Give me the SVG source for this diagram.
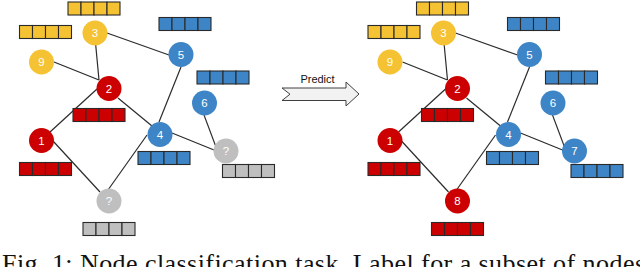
<svg xmlns="http://www.w3.org/2000/svg" xmlns:xlink="http://www.w3.org/1999/xlink" width="640" height="267" viewBox="0 0 640 267">
<style>
.edge{stroke:#2b2b2b;stroke-width:1.2;fill:none}
.y{fill:#F4C232}.r{fill:#CC0000}.b{fill:#3D85C6}.g{fill:#BFBFBF}
.lbl{font-family:"Liberation Sans",Arial,sans-serif;font-size:11.5px;fill:#ffffff;text-anchor:middle}
.cell{stroke:#2a2a2a;stroke-width:1.1}
.pred{font-family:"Liberation Sans",Arial,sans-serif;font-size:11px;fill:#111;text-anchor:middle}
.cap{font-family:"Liberation Serif","Times New Roman",serif;font-size:26px;fill:#111}
</style>
<defs>
<g id="bar" class="cell">
<rect x="0" y="0" width="13" height="13"/>
<rect x="13" y="0" width="13" height="13"/>
<rect x="26" y="0" width="13" height="13"/>
<rect x="39" y="0" width="13" height="13"/>
</g>
</defs>
<g id="connectors">
<g id="edges-left">
<line class="edge" x1="107" y1="33" x2="169" y2="55"/>
<line class="edge" x1="95.7" y1="45" x2="99" y2="80"/>
<line class="edge" x1="54" y1="62" x2="99" y2="80"/>
<line class="edge" x1="97" y1="89" x2="50" y2="132"/>
<line class="edge" x1="118" y1="98" x2="152" y2="126"/>
<line class="edge" x1="181" y1="67" x2="159" y2="122"/>
<line class="edge" x1="204" y1="115" x2="216" y2="147"/>
<line class="edge" x1="172" y1="133" x2="214" y2="150"/>
<line class="edge" x1="53" y1="141" x2="100" y2="192"/>
<line class="edge" x1="147" y1="135" x2="108" y2="190"/>
</g>
<g id="edges-right" transform="translate(348.5,0)">
<line class="edge" x1="107" y1="33" x2="169" y2="55"/>
<line class="edge" x1="95.7" y1="45" x2="99" y2="80"/>
<line class="edge" x1="54" y1="62" x2="99" y2="80"/>
<line class="edge" x1="97" y1="89" x2="50" y2="132"/>
<line class="edge" x1="118" y1="98" x2="152" y2="126"/>
<line class="edge" x1="181" y1="67" x2="159" y2="122"/>
<line class="edge" x1="204" y1="115" x2="216" y2="147"/>
<line class="edge" x1="172" y1="133" x2="214" y2="150"/>
<line class="edge" x1="53" y1="141" x2="100" y2="192"/>
<line class="edge" x1="147" y1="135" x2="108" y2="190"/>
</g>
</g>
<g id="left-graph">
<g id="L3"><use xlink:href="#bar" class="y" x="68" y="2"/><circle class="y" cx="95" cy="33" r="12.5"/><text class="lbl" x="95" y="37">3</text></g>
<g id="L9"><use xlink:href="#bar" class="y" x="19.5" y="25.5"/><circle class="y" cx="41.5" cy="62" r="12.5"/><text class="lbl" x="41.5" y="66">9</text></g>
<g id="L5"><use xlink:href="#bar" class="b" x="159" y="17.5"/><circle class="b" cx="181" cy="54.5" r="12.5"/><text class="lbl" x="181" y="58.5">5</text></g>
<g id="L6"><use xlink:href="#bar" class="b" x="197" y="71"/><circle class="b" cx="204.5" cy="103" r="12.5"/><text class="lbl" x="204.5" y="107">6</text></g>
<g id="L2"><use xlink:href="#bar" class="r" x="73" y="108.5"/><circle class="r" cx="109" cy="88.5" r="12.5"/><text class="lbl" x="109" y="92.5">2</text></g>
<g id="L1"><use xlink:href="#bar" class="r" x="19.5" y="162.5"/><circle class="r" cx="41.5" cy="140.5" r="12.5"/><text class="lbl" x="41.5" y="144.5">1</text></g>
<g id="L4"><use xlink:href="#bar" class="b" x="138" y="151.5"/><circle class="b" cx="160" cy="134.5" r="12.5"/><text class="lbl" x="160" y="138.5">4</text></g>
<g id="LQ1"><use xlink:href="#bar" class="g" x="222.5" y="164.5"/><circle class="g" cx="226" cy="151" r="12.5"/><text class="lbl" x="226" y="155">?</text></g>
<g id="LQ2"><use xlink:href="#bar" class="g" x="83" y="222.5"/><circle class="g" cx="109" cy="201" r="12.5"/><text class="lbl" x="109" y="205">?</text></g>
</g>
<g id="predict">
<path d="M282,88 L346,88 L346,82 L359,94 L346,106 L346,100.5 L282,100.5 L290,94.2 Z" fill="#F2F2F2" stroke="#404040" stroke-width="1"/>
<text class="pred" x="317.5" y="82.5">Predict</text>
</g>
<g id="right-graph" transform="translate(348.5,0)">
<g id="R3"><use xlink:href="#bar" class="y" x="68" y="2"/><circle class="y" cx="95" cy="33" r="12.5"/><text class="lbl" x="95" y="37">3</text></g>
<g id="R9"><use xlink:href="#bar" class="y" x="19.5" y="25.5"/><circle class="y" cx="41.5" cy="62" r="12.5"/><text class="lbl" x="41.5" y="66">9</text></g>
<g id="R5"><use xlink:href="#bar" class="b" x="159" y="17.5"/><circle class="b" cx="181" cy="54.5" r="12.5"/><text class="lbl" x="181" y="58.5">5</text></g>
<g id="R6"><use xlink:href="#bar" class="b" x="197" y="71"/><circle class="b" cx="204.5" cy="103" r="12.5"/><text class="lbl" x="204.5" y="107">6</text></g>
<g id="R2"><use xlink:href="#bar" class="r" x="73" y="108.5"/><circle class="r" cx="109" cy="88.5" r="12.5"/><text class="lbl" x="109" y="92.5">2</text></g>
<g id="R1"><use xlink:href="#bar" class="r" x="19.5" y="162.5"/><circle class="r" cx="41.5" cy="140.5" r="12.5"/><text class="lbl" x="41.5" y="144.5">1</text></g>
<g id="R4"><use xlink:href="#bar" class="b" x="138" y="151.5"/><circle class="b" cx="160" cy="134.5" r="12.5"/><text class="lbl" x="160" y="138.5">4</text></g>
<g id="R7"><use xlink:href="#bar" class="b" x="222.5" y="164.5"/><circle class="b" cx="226" cy="151" r="12.5"/><text class="lbl" x="226" y="155">7</text></g>
<g id="R8"><use xlink:href="#bar" class="r" x="83" y="222.5"/><circle class="r" cx="109" cy="201" r="12.5"/><text class="lbl" x="109" y="205">8</text></g>
</g>
<text class="cap" x="2" y="272" textLength="643" lengthAdjust="spacing">Fig. 1: Node classification task. Label for a subset of nodes</text>
</svg>
